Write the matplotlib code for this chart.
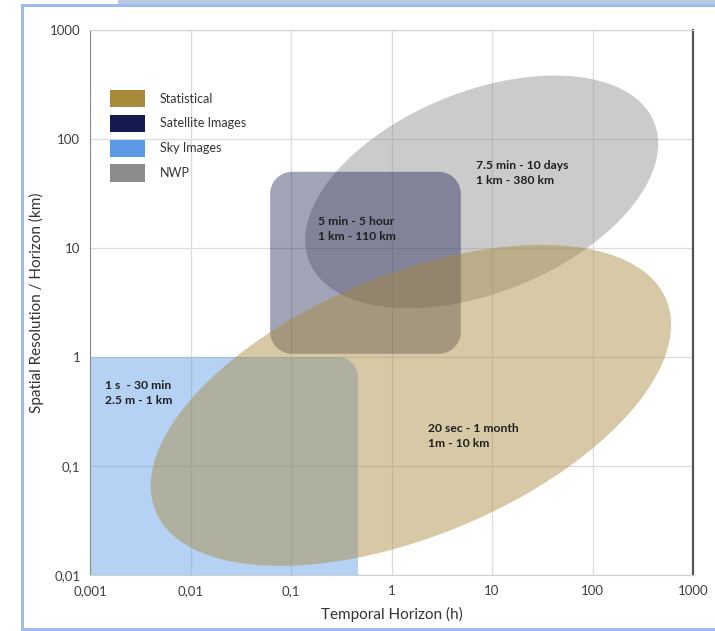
import numpy as np
import matplotlib
matplotlib.use('Agg')
import matplotlib.pyplot as plt
from matplotlib.patches import Polygon, Patch, Rectangle

plt.rcParams['font.family'] = ['Lato', 'DejaVu Sans']

# ticks (log decades) and their labels, comma as decimal separator
x_ticks = [0.001, 0.01, 0.1, 1, 10, 100, 1000]
x_labels = ['0,001', '0,01', '0,1', '1', '10', '100', '1000']
y_ticks = [0.01, 0.1, 1, 10, 100, 1000]
y_labels = ['0,01', '0,1', '1', '10', '100', '1000']

# method names and colours
methods = ['Statistical', 'Satellite Images', 'Sky Images', 'NWP']
colors = ['#A8893A', '#15194D', '#5B9BE6', '#8C8C8C']

# Sky images: hours / km ranges (rectangle)
sky_hours = [10 ** -3.5, 0.464]
sky_km = [10 ** -2.5, 1.0]
# Satellite images: hours / km ranges (rounded rectangle)
sat_hours = [0.062, 4.9]
sat_km = [1.07, 50.0]
# NWP ellipse: centre (h, km), semi-axes (decades), tilt (deg)
nwp_center = [7.9, 32.7]
nwp_axes = [1.85, 1.0]
nwp_tilt = 22.0
# Statistical ellipse
stat_center = [1.56, 0.36]
stat_axes = [2.75, 1.30]
stat_tilt = 22.5

# range annotations
notes = [
    ('7.5 min - 10 days\n1 km - 380 km', 6.93, 48.3),
    ('5 min - 5 hour\n1 km - 110 km', 0.186, 14.8),
    ('1 s  - 30 min\n2.5 m - 1 km', 0.00141, 0.472),
    ('20 sec - 1 month\n1m - 10 km', 2.29, 0.19),
]


def ellipse_pts(center, axes, tilt, k, n=300):
    """ellipse drawn in log space, k = y decade / x decade on screen"""
    t = np.linspace(0, 2 * np.pi, n)
    th = np.radians(tilt)
    u = axes[0] * np.cos(t)
    v = axes[1] * np.sin(t)
    lx = np.log10(center[0]) + u * np.cos(th) - v * np.sin(th)
    ly = np.log10(center[1]) + (u * np.sin(th) + v * np.cos(th)) / k
    return np.column_stack([10 ** lx, 10 ** ly])


def rounded_rect_pts(xr, yr, r, k, n=20):
    lx0, lx1 = np.log10(xr)
    ly0, ly1 = np.log10(yr)
    ry = r / k
    pts = []
    for cx, cy, a0 in [(lx1 - r, ly1 - ry, 0), (lx0 + r, ly1 - ry, 90),
                       (lx0 + r, ly0 + ry, 180), (lx1 - r, ly0 + ry, 270)]:
        a = np.radians(np.linspace(a0, a0 + 90, n))
        pts.append(np.column_stack([cx + r * np.cos(a), cy + ry * np.sin(a)]))
    pts = np.vstack(pts)
    return 10 ** pts


W, H = 715, 631
fig = plt.figure(figsize=(W / 100, H / 100), dpi=100)
ax = fig.add_axes([90 / W, 1 - 575 / H, 603 / W, 545 / H])
ax.set_xscale('log')
ax.set_yscale('log')
ax.set_xlim(0.001, 1000)
ax.set_ylim(0.01, 1000)

# screen aspect of one y decade vs one x decade
k = (545 / 5) / (603 / 6)

alpha = 0.45
ax.add_patch(Polygon(ellipse_pts(nwp_center, nwp_axes, nwp_tilt, k),
                     closed=True, facecolor=colors[3], alpha=alpha, lw=0))
ax.add_patch(Polygon(rounded_rect_pts(sat_hours, sat_km, 0.22, k),
                     closed=True, facecolor=colors[1], alpha=0.4, lw=0))
ax.add_patch(Polygon(rounded_rect_pts(sky_hours, sky_km, 0.2, k),
                     closed=True, facecolor=colors[2], alpha=alpha, lw=0))
ax.add_patch(Polygon(ellipse_pts(stat_center, stat_axes, stat_tilt, k),
                     closed=True, facecolor=colors[0], alpha=alpha, lw=0))

for txt, x, y in notes:
    ax.text(x, y, txt, ha='left', va='center', fontsize=8.7,
            fontweight='bold', color='#1f1f1f', linespacing=1.45)

ax.set_xticks(x_ticks)
ax.set_xticklabels(x_labels)
ax.set_yticks(y_ticks)
ax.set_yticklabels(y_labels)
ax.minorticks_off()
ax.tick_params(length=0, labelsize=9.5, labelcolor='#404040', pad=7)
ax.grid(True, color='#DCDCDC', lw=0.9)
ax.set_axisbelow(True)

for side in ['top', 'bottom']:
    ax.spines[side].set_color('#D0D0D0')
ax.spines['left'].set_color('#8C8C8C')
ax.spines['right'].set_color('#555555')
ax.spines['right'].set_linewidth(1.6)

ax.set_xlabel('Temporal Horizon (h)', fontsize=11, color='#333333', labelpad=7)
ax.set_ylabel('Spatial Resolution / Horizon (km)', fontsize=11,
              color='#333333', labelpad=4)

handles = [Patch(facecolor=c, edgecolor='none') for c in colors]
ax.legend(handles, methods, loc='upper left', bbox_to_anchor=(0.033, 0.890),
          frameon=False, fontsize=9, handlelength=2.8, handleheight=1.75,
          labelspacing=0.6, handletextpad=1.2, borderaxespad=0, borderpad=0,
          labelcolor='#333333')

# light blue frame around the figure
fc = '#9DBBEF'
fig.add_artist(Rectangle((118 / W, 1 - 6 / H), 1, 6 / H, transform=fig.transFigure,
                         facecolor='#B7C9E3', edgecolor='none'))
fig.add_artist(Rectangle((21 / W, 1 - 6.5 / H), 1, 3 / H, transform=fig.transFigure,
                         facecolor=fc, edgecolor='none'))
fig.add_artist(Rectangle((21 / W, 0), 3 / W, 1 - 3.5 / H, transform=fig.transFigure,
                         facecolor=fc, edgecolor='none'))
fig.add_artist(Rectangle((21 / W, 0), 1, 3 / H, transform=fig.transFigure,
                         facecolor=fc, edgecolor='none'))

fig.savefig('out.png', dpi=100, facecolor='white')
